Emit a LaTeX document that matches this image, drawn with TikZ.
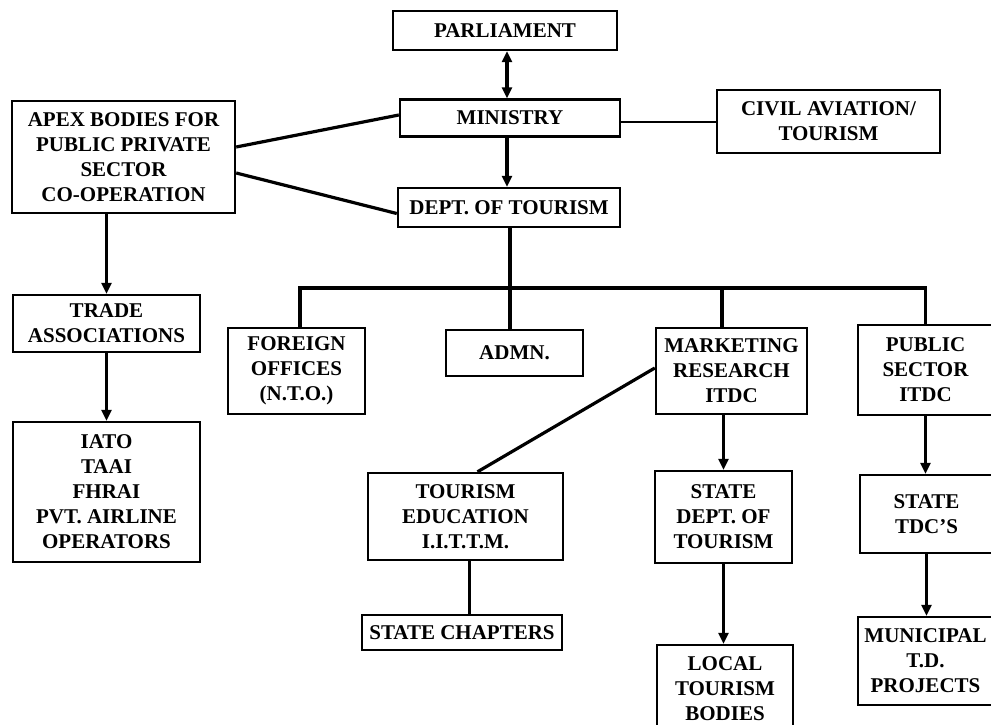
\documentclass[tikz,border=0pt]{standalone}
\usepackage{fontspec}
\setmainfont{Liberation Serif}
\usepackage{tikz}
\usetikzlibrary{arrows.meta, positioning, calc}

\begin{document}
\begin{tikzpicture}[
    x=1pt, y=-1pt,
    unit/.style={rectangle, draw=black, line width=2.4pt, inner sep=2pt, align=center, font=\fontsize{21}{25}\selectfont\bfseries},
    link/.style={line width=3.2pt},
    flow/.style={link, -{Triangle[length=11pt,width=10pt]}}
]
\useasboundingbox (0,0) rectangle (991,724);

% Central offices
\node[unit, minimum width=224pt, minimum height=39pt] (parl) at (505,30.5) {PARLIAMENT};
\node[unit, minimum width=220pt, minimum height=37pt] (min) at (510,118) {MINISTRY};
\node[unit, minimum width=223pt, minimum height=63pt] (civil) at (828.5,121.5) {CIVIL AVIATION/\\TOURISM};
\node[unit, minimum width=222pt, minimum height=39pt] (dept) at (509,207.5) {DEPT. OF TOURISM};

% Private sector side
\node[unit, minimum width=223pt, minimum height=112pt] (apex) at (123.5,157) {APEX BODIES FOR\\PUBLIC PRIVATE\\SECTOR\\CO-OPERATION};
\node[unit, minimum width=187pt, minimum height=57pt] (trade) at (106.5,323.5) {TRADE\\ASSOCIATIONS};
\node[unit, minimum width=187pt, minimum height=140pt] (iato) at (106.5,492) {IATO\\TAAI\\FHRAI\\PVT. AIRLINE\\OPERATORS};

% Branches of the department
\node[unit, minimum width=137pt, minimum height=86pt] (foreign) at (296.5,371) {FOREIGN\\OFFICES\\(N.T.O.)};
\node[unit, minimum width=137pt, minimum height=46pt] (admn) at (514.5,353) {ADMN.};
\node[unit, minimum width=151pt, minimum height=86pt] (market) at (731.5,371) {MARKETING\\RESEARCH\\ITDC};
\node[unit, minimum width=135pt, minimum height=90pt] (public) at (925.5,370) {PUBLIC\\SECTOR\\ITDC};

% Lower levels
\node[unit, minimum width=195pt, minimum height=87pt] (edu) at (465.5,516.5) {TOURISM\\EDUCATION\\I.I.T.T.M.};
\node[unit, minimum width=200pt, minimum height=35pt] (chapters) at (462,632.5) {STATE CHAPTERS};
\node[unit, minimum width=137pt, minimum height=92pt] (statedept) at (723.5,517) {STATE\\DEPT. OF\\TOURISM};
\node[unit, minimum width=136pt, minimum height=88pt] (local) at (725,689) {LOCAL\\TOURISM\\BODIES};
\node[unit, minimum width=133pt, minimum height=78pt] (tdc) at (926.5,514) {STATE\\TDC'S};
\node[unit, minimum width=135pt, minimum height=88pt] (municipal) at (925.5,661) {MUNICIPAL\\T.D.\\PROJECTS};

% Connections at the top
\coordinate (axis) at (507,0);
\draw[link, {Triangle[length=11pt,width=10pt]}-{Triangle[length=11pt,width=10pt]}] (parl.south -| axis) -- (min.north -| axis);
\draw[flow] (min.south -| axis) -- (dept.north -| axis);
\draw[line width=2.2pt] (min.east |- 0,122) -- (civil.west |- 0,122);
\draw[link] ([yshift=10pt]apex.east) -- ([yshift=3pt]min.west);
\draw[link] ([yshift=-16pt]apex.east) -- ([yshift=-6pt]dept.west);

% Private sector chain
\draw[flow] (apex.south -| trade.north) -- (trade.north);
\draw[flow] (trade.south) -- (iato.north);

% Department branch line
\coordinate (bus) at (510,288);
\draw[link] (dept.south -| bus) -- (bus);
\draw[link] (foreign.north -| 300,0) |- (bus) -| (public.north);
\draw[link] (bus) -- (admn.north -| bus);
\draw[link] (market.north -| 722,0) -- (722,288);

% Lower chains
\draw[link] ([yshift=3pt]market.west) -- ([xshift=12pt]edu.north);
\draw[link] ([xshift=4pt]edu.south) -- ([xshift=4pt]edu.south |- chapters.north);
\draw[flow] ([xshift=-8pt]market.south) -- (statedept.north);
\draw[flow] (statedept.south) -- (statedept.south |- local.north);
\draw[flow] (public.south) -- (public.south |- tdc.north);
\draw[flow] (tdc.south) -- (tdc.south |- municipal.north);

\end{tikzpicture}
\end{document}
